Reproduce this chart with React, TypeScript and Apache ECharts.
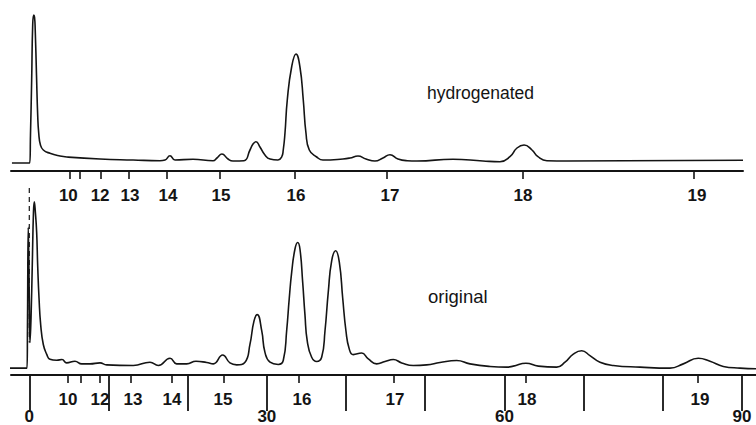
import React, { useEffect, useRef } from "react";
import * as echarts from "echarts";

// Retention time (minutes) and detector signal (arbitrary units)
const hydroTime = [-2.19, 0.05, 0.15, 0.3, 0.43, 0.56, 0.66, 0.75, 0.91, 1.06, 1.19, 1.41, 1.77, 2.61, 3.88, 4.76, 8.93, 13.11, 16.5, 17.14, 17.77, 18.4, 20.67, 23.2, 23.7, 24.33, 25.09, 25.72, 27.11, 27.87, 28.25, 28.63, 29.13, 29.76, 30.4, 31.4, 31.87, 32.07, 32.29, 32.58, 33.13, 33.68, 34.18, 34.6, 34.94, 35.36, 36.29, 37.09, 39.61, 40.5, 41.51, 42.52, 43.65, 44.66, 45.55, 46.56, 47.7, 48.96, 53.5, 57.29, 59.44, 60.7, 61.59, 62.48, 63.48, 64.24, 65.37, 67.9, 90.13];
const hydroSignal = [8, 8, 36, 91, 146, 156, 154, 141, 96, 56, 38, 26, 21, 17.7, 15, 14, 12, 11, 10.3, 11, 15.3, 11, 11.7, 10.3, 13, 17, 12, 10, 10.3, 21, 27, 29.3, 24, 16, 12, 11, 14, 21, 38, 71, 104, 117, 104, 71, 38, 21, 14, 11, 12, 13, 15, 12, 10, 13, 16.3, 12, 10.3, 10, 11.7, 10, 9.3, 14.3, 23, 26, 21, 14.3, 10.3, 10, 10.7];

const origTime = [-2.44, -0.29, -0.23, -0.13, 0, 0.09, 0.22, 0.38, 0.53, 0.63, 0.76, 0.93, 1.06, 1.23, 1.44, 1.77, 2.2, 2.61, 3.46, 4.13, 4.72, 5.77, 6.62, 7.67, 8.93, 9.77, 13.13, 15.24, 16.29, 17.77, 18.61, 19.88, 21.05, 22.4, 23.24, 24.42, 25.34, 26.19, 27.24, 27.87, 28.38, 28.79, 29.35, 29.76, 30.4, 31.44, 32.07, 32.5, 32.83, 33.14, 33.55, 33.89, 34.18, 34.52, 34.81, 35.1, 35.66, 36.29, 36.92, 37.34, 37.76, 38.19, 38.69, 39.15, 39.58, 39.99, 40.41, 40.91, 41.97, 42.81, 43.87, 44.92, 45.97, 47.03, 48.49, 50.18, 51.86, 53.97, 55.65, 58.18, 60.29, 61.12, 62.72, 64.28, 66.6, 67.65, 68.7, 69.76, 70.8, 72.07, 73.75, 77.12, 80.91, 82.59, 84.48, 85.96, 87.64, 89.75, 91.77];
const origSignal = [7, 7, 48, 150, 78, 33, 58, 113, 166, 176, 166, 145, 111, 78, 51, 31, 21, 16, 15, 15.7, 12.3, 14, 11.3, 11.3, 12.3, 10.3, 9.7, 13, 9.7, 17, 11.3, 11.3, 14, 12.7, 11.3, 20.3, 12.3, 10.3, 13, 31.3, 55, 61.3, 45, 23, 13, 10.7, 14.7, 45, 78, 104.7, 128, 134.7, 128, 94.7, 61.3, 34.7, 18, 13.7, 18, 44.7, 84.7, 116.3, 126.3, 114.7, 78, 44.7, 26.3, 20.7, 22.3, 16.3, 11.3, 13.7, 15.7, 12.3, 9.7, 10.3, 12.7, 14.7, 11.3, 8.7, 8, 9, 12, 9, 8, 13, 21.3, 24.7, 19.7, 13, 9.7, 8, 7, 11.3, 17, 14, 8.7, 7, 6.3];

// Carbon-number markers (retention times, minutes)
const topCarbonTickTime = [5.05, 6.4, 9.05, 12.59, 17.39, 24.08, 33.55, 45.17, 62.34, 83.94];
const topCarbonLabelTime = [4.93, 8.94, 12.72, 17.51, 24.21, 33.68, 45.55, 62.34, 84.32];
const bottomCarbonTickTime = [4.89, 6.53, 8.93, 12.84, 18.02, 24.59, 34.06, 46.05, 62.72, 84.44];
const bottomCarbonLabelTime = [4.89, 8.93, 13.1, 18.02, 24.46, 34.44, 46.18, 62.85, 84.69];
const carbonLabels = ["10", "12", "13", "14", "15", "16", "17", "18", "19"];

// Time axis (minutes)
const timeTicks = [0, 10, 20, 30, 40, 50, 60, 70, 80, 90];
const timeLabels = [0, 30, 60, 90];

// Injection marker
const injectionTime = [0, 0];
const injectionSignal = [190, 33];

const FONT = "'Liberation Sans', Arial, sans-serif";
const INK = "#141414";

function nearestLabel(v: number, times: number[]) {
  let best = 0;
  let bd = Infinity;
  times.forEach((t, i) => {
    const d = Math.abs(t - v);
    if (d < bd) {
      bd = d;
      best = i;
    }
  });
  return carbonLabels[best];
}

function carbonAxis(gridIndex: number, min: number, max: number, tickT: number[], labT: number[]) {
  return {
    type: "value",
    gridIndex,
    min,
    max,
    position: "bottom",
    axisLine: { show: true, onZero: false, lineStyle: { color: INK, width: 2 } },
    splitLine: { show: false },
    axisTick: { show: true, customValues: tickT, length: 8, lineStyle: { color: INK, width: 1.6 } },
    axisLabel: {
      show: true,
      customValues: labT,
      formatter: (v: number) => nearestLabel(v, labT),
      margin: 16,
      fontSize: 17,
      fontWeight: "bold",
      color: INK,
      fontFamily: FONT,
    },
  };
}

export default function App() {
  const ref = useRef<HTMLDivElement>(null);
  useEffect(() => {
    if (!ref.current) return;
    const chart = echarts.init(ref.current, null, { renderer: "svg" });
    const zip = (a: number[], b: number[]) => a.map((x, i) => [x, b[i]]);
    chart.setOption({
      animation: false,
      backgroundColor: "#ffffff",
      grid: [
        { left: 11, right: 13, top: 11, height: 160 },
        { left: 11, right: 0, top: 188, height: 190 },
      ],
      xAxis: [
        carbonAxis(0, -2.31, 90.13, topCarbonTickTime, topCarbonLabelTime),
        carbonAxis(1, -2.31, 91.77, bottomCarbonTickTime, bottomCarbonLabelTime),
        {
          type: "value",
          gridIndex: 1,
          min: -2.31,
          max: 91.77,
          position: "bottom",
          axisLine: { show: false, onZero: false },
          splitLine: { show: false },
          axisTick: { show: true, customValues: timeTicks, length: 36, lineStyle: { color: INK, width: 1.8 } },
          axisLabel: {
            show: true,
            customValues: timeLabels,
            margin: 33,
            fontSize: 17,
            fontWeight: "bold",
            color: INK,
            fontFamily: FONT,
          },
        },
      ],
      yAxis: [
        { type: "value", gridIndex: 0, min: 0, max: 160, show: false },
        { type: "value", gridIndex: 1, min: 0, max: 190, show: false },
      ],
      series: [
        {
          type: "line",
          xAxisIndex: 0,
          yAxisIndex: 0,
          data: zip(hydroTime, hydroSignal),
          showSymbol: false,
          smooth: 0.5,
          lineStyle: { color: INK, width: 1.6 },
        },
        {
          type: "line",
          xAxisIndex: 1,
          yAxisIndex: 1,
          data: zip(origTime, origSignal),
          showSymbol: false,
          smooth: 0.5,
          lineStyle: { color: INK, width: 1.6 },
        },
        {
          type: "line",
          xAxisIndex: 1,
          yAxisIndex: 1,
          data: zip(injectionTime, injectionSignal),
          showSymbol: false,
          lineStyle: { color: INK, width: 1.2, type: [5, 4] },
        },
      ],
      graphic: [
        {
          type: "text",
          left: 427,
          top: 84,
          style: { text: "hydrogenated", fontSize: 17.5, fontFamily: FONT, fill: INK },
        },
        {
          type: "text",
          left: 428,
          top: 287,
          style: { text: "original", fontSize: 18.5, fontFamily: FONT, fill: INK },
        },
      ],
    });
    return () => chart.dispose();
  }, []);
  return (
    <div
      ref={ref}
      style={{ position: "absolute", left: 0, top: 0, width: 756, height: 425, background: "#fff" }}
    />
  );
}
